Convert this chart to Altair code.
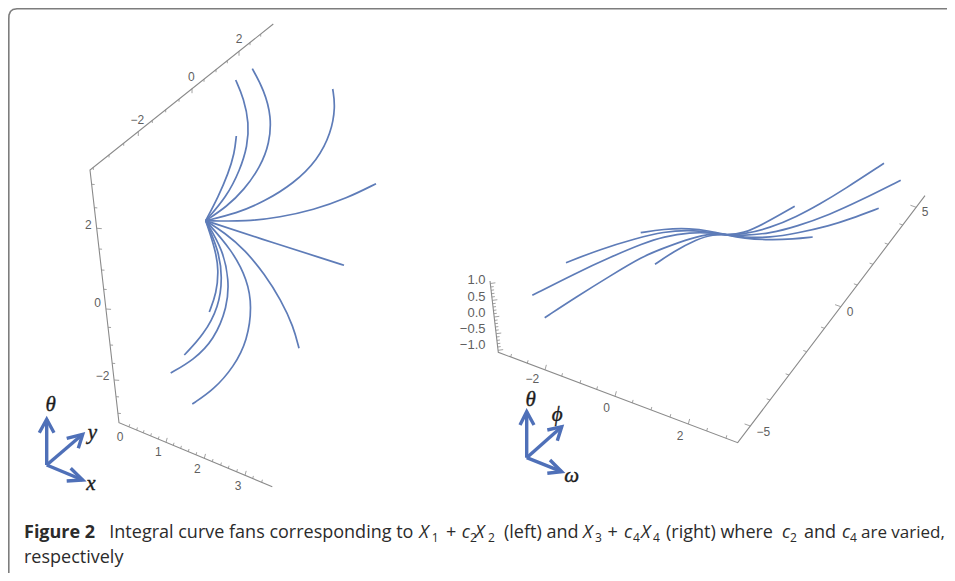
import altair as alt
import numpy as np
import pandas as pd

# Screen-space readings of the two projected 3-D plots (image pixels).
HUB_L = (205.7, 220.7)
HUB_R = (726.7, 235)

fan_left = {
    "A": [(236.3,136),(234.5,153.3),(228.3,173.3),(218.3,196.7),HUB_L],
    "B": [(235.7,80),(243.8,98.3),(249,123.3),(247.5,146),(240,170),(226.7,196.7),HUB_L],
    "C": [(252.3,68.7),(264,90),(271.5,116.7),(269.5,143.3),(260.5,166.7),(244,190),(226.7,206.7),HUB_L],
    "D": [(332.7,89),(335.5,106.7),(331,133.3),(317.5,160),(294,183.3),(264,201.7),(236.7,213.3),HUB_L],
    "E": [(376,183.7),(346.7,198.3),(313.3,210),(280,217.3),(246.7,221.5),HUB_L],
    "F": [HUB_L,(260,238.5),(326.7,259.7),(344,265.3)],
    "G": [(299,348.3),(293.5,326.7),(281,300),(264.5,274),(245,250),(225,233),HUB_L],
    "H": [(192.3,404),(213.5,390),(234,366.7),(247.5,340),(252,306.7),(247.5,280),(232,250),HUB_L],
    "I": [(170.7,373),(193.5,360),(214,340),(227.5,306.7),(229,280),(223,250),HUB_L],
    "J": [(184.3,355),(203.5,335),(219,306.7),(222.5,276.7),(218.5,250),HUB_L],
    "K": [(209.3,312),(216.5,293.3),(218.7,270),(215.5,250),HUB_L],
}
fan_right = {
    "a": [(655,264.3),(673.3,251.7),(696.7,239.3),(713.3,234.3),HUB_R,(743.3,233.3),(763.3,224.3),(794.7,206.3)],
    "b": [(544.7,317.7),(576.7,296.7),(610,276),(643.3,256),(663.3,248.3),(690,238.3),(713.3,233.3),HUB_R,
          (743.3,234.3),(770,228),(796.7,216.7),(820,204),(843.3,190),(884,163.3)],
    "c": [(566,262.7),(600,249.3),(636.7,238.3),(663.3,231.7),(690,230),(710,232.3),HUB_R,
          (743.3,237.3),(770,237.7),(796.7,233.3),(830,225.7),(850,219),(878.7,208.3)],
    "d": [(532.3,295.3),(576.7,272.7),(610,257.3),(643.3,243.3),(663.3,236.7),(690,232.3),(713.3,233),HUB_R,
          (743.3,235.7),(770,233.3),(796.7,226.5),(830,214.5),(860,200.7),(900.7,180.3)],
    "e": [(640.7,232.7),(663.3,229),(690,228.3),(710,231),HUB_R,(743.3,238.3),(770,240),(793.3,239),(812.7,237)],
}

axis_lines = {
    "L": [(273.3,24),(90,170),(119,422.7),(272.3,486.7)],
    "R": [(490,281),(498.3,352.3),(737.7,442.7),(925,195.7)],
}
frame_line = [(947,8.8),(17,8.8),(13,9.5),(10.5,11.5),(9,15),(8.8,19),(8.8,573)]

top_tick_x = [93.3,109,123.7,138.3,152.3,165.7,179,192,204,216,227.3,239,250,260.7]
top_tick_major = [138.3,192,239]
side_tick_y = [184.3,207.7,228.3,249,270,289.3,309,327.3,345,363.3,380,396.7,413.3]
side_tick_major = [228.3,309,380]
base_tick_x = [129,136.7,143.3,150.7,158.3,166,173.3,180.7,188.3,196,204.3,212.3,220.7,228.3,236.7,245,252.7,261.7]
base_tick_major = [166,204.3,245]
rz_tick_y = [283.5,287,290.3,293.7,297,300.4,303.7,307,310.4,313.7,317,320.4,323.7,327,330.3,333.7,337,340.4,343.7,347,350.3]
rz_tick_major = [283.5,300.4,317,333.7,350.3]
rb_tick_x = [510.7,527.3,545,561.7,580,596.7,615,632.3,651,670,688.3,706.7,726]
rb_tick_major = [545,615,688.3]
rr_tick_y = [207.3,225,244.3,264.3,285,306.7,328.3,351.7,375,400,426]
rr_tick_major = [207.3,306.7,426]

tick_labels = [
    ("2",239,39.3),("0",191.3,77.3),("\u22122",137.3,120),
    ("2",88.3,225),("0",97.7,303.3),("\u22122",102.7,375.7),
    ("0",120,436.7),("1",158.3,452.3),("2",197.3,469),("3",238,485.7),
    ("\u22122",532.3,379),("0",606.7,407.7),("2",680,435.7),
    ("5",925,211.7),("0",850,311.7),("\u22125",763.3,431.7),
]
z_labels = [("1.0",485.5,280),("0.5",485.5,296.7),("0.0",485.5,312.7),("\u22120.5",485.5,329.3),("\u22121.0",485.5,345)]

arrow_strokes = [
    [(46.7,465),(46.7,419.3)], [(39.3,432.7),(46.7,419.3),(54,432.7)],
    [(46.7,465),(82.7,434.3)], [(66.7,438.3),(82.7,434.3),(78.3,448.3)],
    [(46.7,465),(82.7,480)], [(70.7,468.3),(82.7,480),(66.7,481)],
    [(526.7,457.7),(526.7,411.7)], [(520,425),(526.7,411.7),(534,425)],
    [(526.7,457.7),(561.7,426.7)], [(547.3,430),(561.7,426.7),(557.3,440.7)],
    [(526.7,457.7),(561.7,471.7)], [(550,460),(561.7,471.7),(547.3,473.3)],
]
arrow_names = [("\u03b8",50.7,405),("y",92.5,433),("x",91,484),("\u03b8",530.7,400),("\u03d5",557.3,415),("\u03c9",571.7,476)]

cap_bold = [("Figure 2",24)]
cap_plain = [("Integral curve fans corresponding to",109.3),("+",446),("(left) and",504),("+",607.5),
             ("(right) where",666),("and",804)]
cap_tail = [("are varied,",861)]
cap_italic = [("X",419.3),("c",461.7),("X",475),("X",583),("c",624),("X",641),("c",782),("c",842)]
cap_sub = [("1",431.7),("2",470),("2",488),("3",595),("4",633),("4",653),("2",790),("4",850)]
cap_line2 = [("respectively",24)]
CAP_Y1, CAP_Y2, CAP_SUB = 537.5, 563, 541.5

x_scale = alt.Scale(domain=[8,947], nice=False, zero=False)
y_scale = alt.Scale(domain=[573,8], nice=False, zero=False)
X = alt.X("x:Q", scale=x_scale, axis=None)
Y = alt.Y("y:Q", scale=y_scale, axis=None)

def paths(groups):
    rows = []
    for k, pts in groups.items():
        for i, (x, y) in enumerate(pts):
            rows.append(dict(k=k, i=i, x=x, y=y))
    return pd.DataFrame(rows)

def along(line, xs=None, ys=None):
    (x0,y0),(x1,y1) = line
    if xs is not None:
        return [(x, y0+(x-x0)*(y1-y0)/(x1-x0)) for x in xs]
    return [(x0+(y-y0)*(x1-x0)/(y1-y0), y) for y in ys]

def tick_rows(bases, majors, key, dx, dy, scale=1.7):
    rows = []
    for x, y in bases:
        m = any(abs((x if key == "x" else y) - v) < 0.01 for v in majors)
        f = scale if m else 1.0
        rows.append(dict(x=x, y=y, x2=x+dx*f, y2=y+dy*f))
    return rows

L, R = axis_lines["L"], axis_lines["R"]
tick_df = pd.DataFrame(
    tick_rows(along((L[0],L[1]), xs=top_tick_x), top_tick_major, "x", 0, 2.6)
    + tick_rows(along((L[1],L[2]), ys=side_tick_y), side_tick_major, "y", 3, 0.2)
    + tick_rows(along((L[2],L[3]), xs=base_tick_x), base_tick_major, "x", 0.7, -2.6)
    + tick_rows(along((R[0],R[1]), ys=rz_tick_y), rz_tick_major, "y", 3, -0.4)
    + tick_rows(along((R[1],R[2]), xs=rb_tick_x), rb_tick_major, "x", 0.8, -3)
    + tick_rows(along((R[2],R[3]), ys=rr_tick_y), rr_tick_major, "y", -3.4, -1.2)
)

ARROW = "#4f70b8"
CURVE = "#5e7cb8"
GREY = "#8a8a8a"
LABEL = "#5f5f5f"
TEXT = "#2b2b2b"
SANS = "Liberation Sans"
CAP = "Open Sans"

def text_layer(rows, **kw):
    return alt.Chart(pd.DataFrame(rows, columns=["t","x","y"])).mark_text(**kw).encode(x=X, y=Y, text="t:N")

def caption(items, y, **kw):
    kw = dict(align="left", baseline="alphabetic", font=CAP, color=TEXT, **kw)
    return text_layer([(t, x, y) for t, x in items], **kw)

layers = [
    alt.Chart(paths({"f": frame_line})).mark_line(color="#7d7d7d", strokeWidth=1.6, clip=True).encode(
        x=X, y=Y, order="i:Q"),
    alt.Chart(paths(axis_lines)).mark_line(color=GREY, strokeWidth=1.1).encode(
        x=X, y=Y, detail="k:N", order="i:Q"),
    alt.Chart(tick_df).mark_rule(color=GREY, strokeWidth=0.8).encode(x=X, y=Y, x2="x2:Q", y2="y2:Q"),
    alt.Chart(paths({**fan_left, **fan_right})).mark_line(
        color=CURVE, strokeWidth=1.7, interpolate="basis").encode(
        x=X, y=Y, detail="k:N", order="i:Q"),
    alt.Chart(paths({str(i): s for i, s in enumerate(arrow_strokes)})).mark_line(
        color=ARROW, strokeWidth=3.4).encode(x=X, y=Y, detail="k:N", order="i:Q"),
    text_layer(tick_labels, font=SANS, fontSize=12, color=LABEL, align="center", baseline="middle"),
    text_layer(z_labels, font=SANS, fontSize=13, color=LABEL, align="right", baseline="middle"),
    text_layer(arrow_names, font="Liberation Serif", fontSize=21, fontStyle="italic",
               color="#1c1c1c", stroke="#1c1c1c", strokeWidth=0.4, align="center", baseline="middle"),
    caption(cap_bold, CAP_Y1, fontSize=18, fontWeight="bold"),
    caption(cap_plain, CAP_Y1, fontSize=18),
    caption(cap_tail, CAP_Y1, fontSize=17),
    caption(cap_italic, CAP_Y1, fontSize=18, fontStyle="italic"),
    caption(cap_sub, CAP_SUB, fontSize=12),
    caption(cap_line2, CAP_Y2, fontSize=18),
]

chart = alt.layer(*layers).properties(
    width=939, height=565, padding=0,
    background="white",
    autosize=alt.AutoSizeParams(type="none", contains="padding"),
).configure_view(stroke=None)

chart.save("out.html", embed_options={"renderer": "svg", "actions": False})
